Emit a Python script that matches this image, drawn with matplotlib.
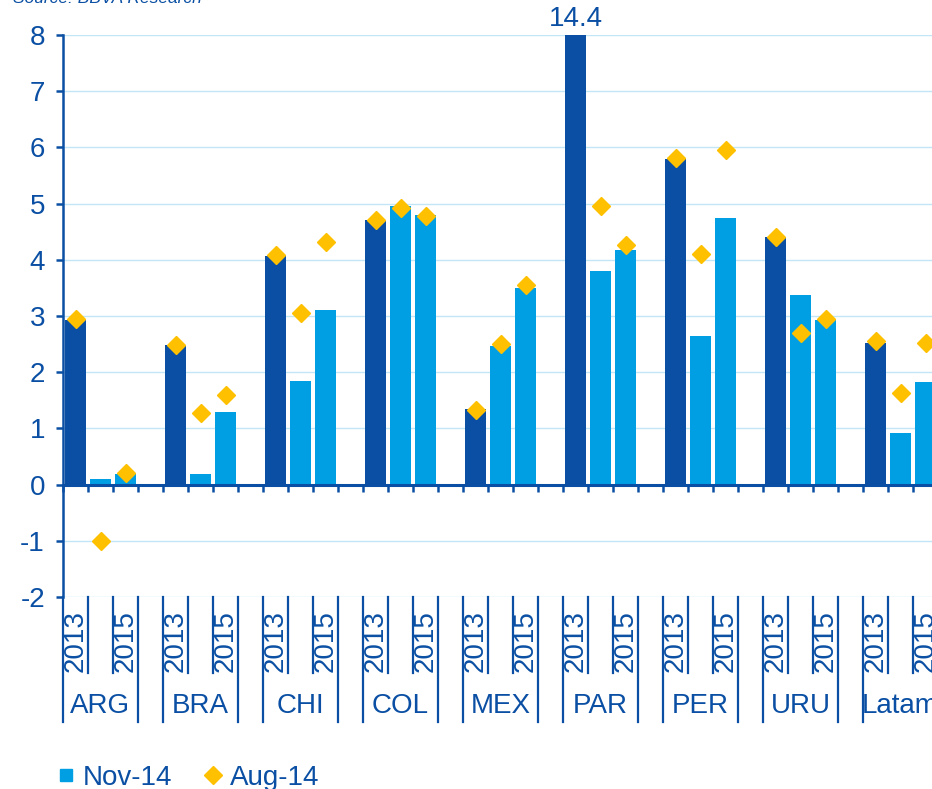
import numpy as np
import matplotlib
matplotlib.use('Agg')
import matplotlib.pyplot as plt
import matplotlib.transforms as mtransforms
from matplotlib.lines import Line2D

plt.rcParams['font.family'] = ['Liberation Sans', 'DejaVu Sans']
plt.rcParams['axes.unicode_minus'] = False

countries = ['ARG', 'BRA', 'CHI', 'COL', 'MEX', 'PAR', 'PER', 'URU', 'Latam']
year_labels = ['2013', '', '2015']

# Nov-14 forecast (bars): 2013, 2014, 2015 per country
nov14 = [
    [2.92, 0.10, 0.19],
    [2.48, 0.18, 1.30],
    [4.07, 1.85, 3.11],
    [4.70, 4.95, 4.80],
    [1.35, 2.47, 3.50],
    [14.4, 3.80, 4.18],
    [5.80, 2.65, 4.75],
    [4.40, 3.38, 2.92],
    [2.52, 0.92, 1.83],
]
# Aug-14 forecast (diamonds)
aug14 = [
    [2.94, -1.00, 0.20],
    [2.49, 1.27, 1.59],
    [4.08, 3.05, 4.31],
    [4.70, 4.92, 4.78],
    [1.33, 2.50, 3.55],
    [np.nan, 4.95, 4.27],
    [5.82, 4.10, 5.95],
    [4.40, 2.70, 2.95],
    [2.55, 1.63, 2.52],
]

DARK = '#0A4FA3'
LIGHT = '#009FE3'
GOLD = '#FFC000'
GRID = '#C3E6F7'

n_years = 3
slot = n_years + 1  # one empty category after each country
pos = np.array([g * slot + k for g in range(len(countries)) for k in range(n_years)])
bar_vals = np.array(nov14).ravel()
dot_vals = np.array(aug14).ravel()
bar_cols = [DARK if k == 0 else LIGHT for g in range(len(countries)) for k in range(n_years)]
n_cat = len(countries) * slot

fig = plt.figure(figsize=(9.32, 7.89), dpi=100)
ax = fig.add_axes([63 / 932, 1 - 597 / 789, 900 / 932, 562 / 789])

ymin, ymax = -2, 8
ax.bar(pos, bar_vals, width=0.84, color=bar_cols, zorder=2)
ax.plot(pos, dot_vals, ls='none', marker='D', ms=9.5, color=GOLD, zorder=3)

# value label for bars running off the scale
for x, v in zip(pos, bar_vals):
    if v > ymax:
        ax.annotate(f'{v:.1f}', xy=(x, ymax), xytext=(0, 2), textcoords='offset points',
                    ha='center', va='bottom', fontsize=20, color=DARK, annotation_clip=False)

ax.set_xlim(-0.5, n_cat - 0.5)
ax.set_ylim(ymin, ymax)
ax.set_yticks(np.arange(ymin, ymax + 1))
ax.yaxis.grid(True, color=GRID, lw=1.0, zorder=0)
ax.set_axisbelow(True)

for s in ['top', 'right']:
    ax.spines[s].set_visible(False)
ax.spines['left'].set_color(DARK)
ax.spines['left'].set_linewidth(1.8)
ax.spines['bottom'].set_position(('data', 0))
ax.spines['bottom'].set_color(DARK)
ax.spines['bottom'].set_linewidth(2.2)
ax.spines['bottom'].set_zorder(4)

ax.set_xticks(np.arange(n_cat + 1) - 0.5)
ax.set_xticklabels([])
ax.tick_params(axis='x', direction='out', length=5, width=1.8, color=DARK)
ax.tick_params(axis='y', direction='out', length=5, width=1.8, color=DARK,
               labelsize=20, labelcolor=DARK, pad=8)

# category labels under the plot area
trans = mtransforms.blended_transform_factory(ax.transData, ax.transAxes)
year_depth = -76 / 562
group_depth = -125 / 562
for g, name in enumerate(countries):
    start = g * slot - 0.5
    end = start + n_years
    for edge in (start, end):
        ax.plot([edge, edge], [0, group_depth], transform=trans, color=DARK,
                lw=1.6, clip_on=False)
    for k in range(1, n_years):
        ax.plot([start + k] * 2, [0, year_depth], transform=trans, color=DARK,
                lw=1.6, clip_on=False)
    for k, lab in enumerate(year_labels):
        if lab:
            ax.text(g * slot + k, -44 / 562, lab, transform=trans, rotation=90,
                    ha='center', va='center', fontsize=20, color=DARK, clip_on=False)
    ax.text(g * slot + (n_years - 1) / 2, -109 / 562, name, transform=trans,
            ha='center', va='center', fontsize=20, color=DARK, clip_on=False)

handles = [
    Line2D([], [], ls='none', marker='s', ms=9, color=LIGHT),
    Line2D([], [], ls='none', marker='D', ms=9, color=GOLD),
]
fig.legend(handles, ['Nov-14', 'Aug-14'], loc='center left',
           bbox_to_anchor=(58 / 932, 1 - 778 / 789), ncol=2, frameon=False,
           fontsize=20, labelcolor=DARK, handlelength=0.6, handletextpad=0.3,
           columnspacing=1.15, borderaxespad=0, borderpad=0)

fig.text(13 / 932, 1 - 3 / 789, 'Source: BBVA Research', fontsize=12.5,
         style='italic', color=DARK, ha='left', va='baseline')

fig.savefig('out.png', dpi=100)
